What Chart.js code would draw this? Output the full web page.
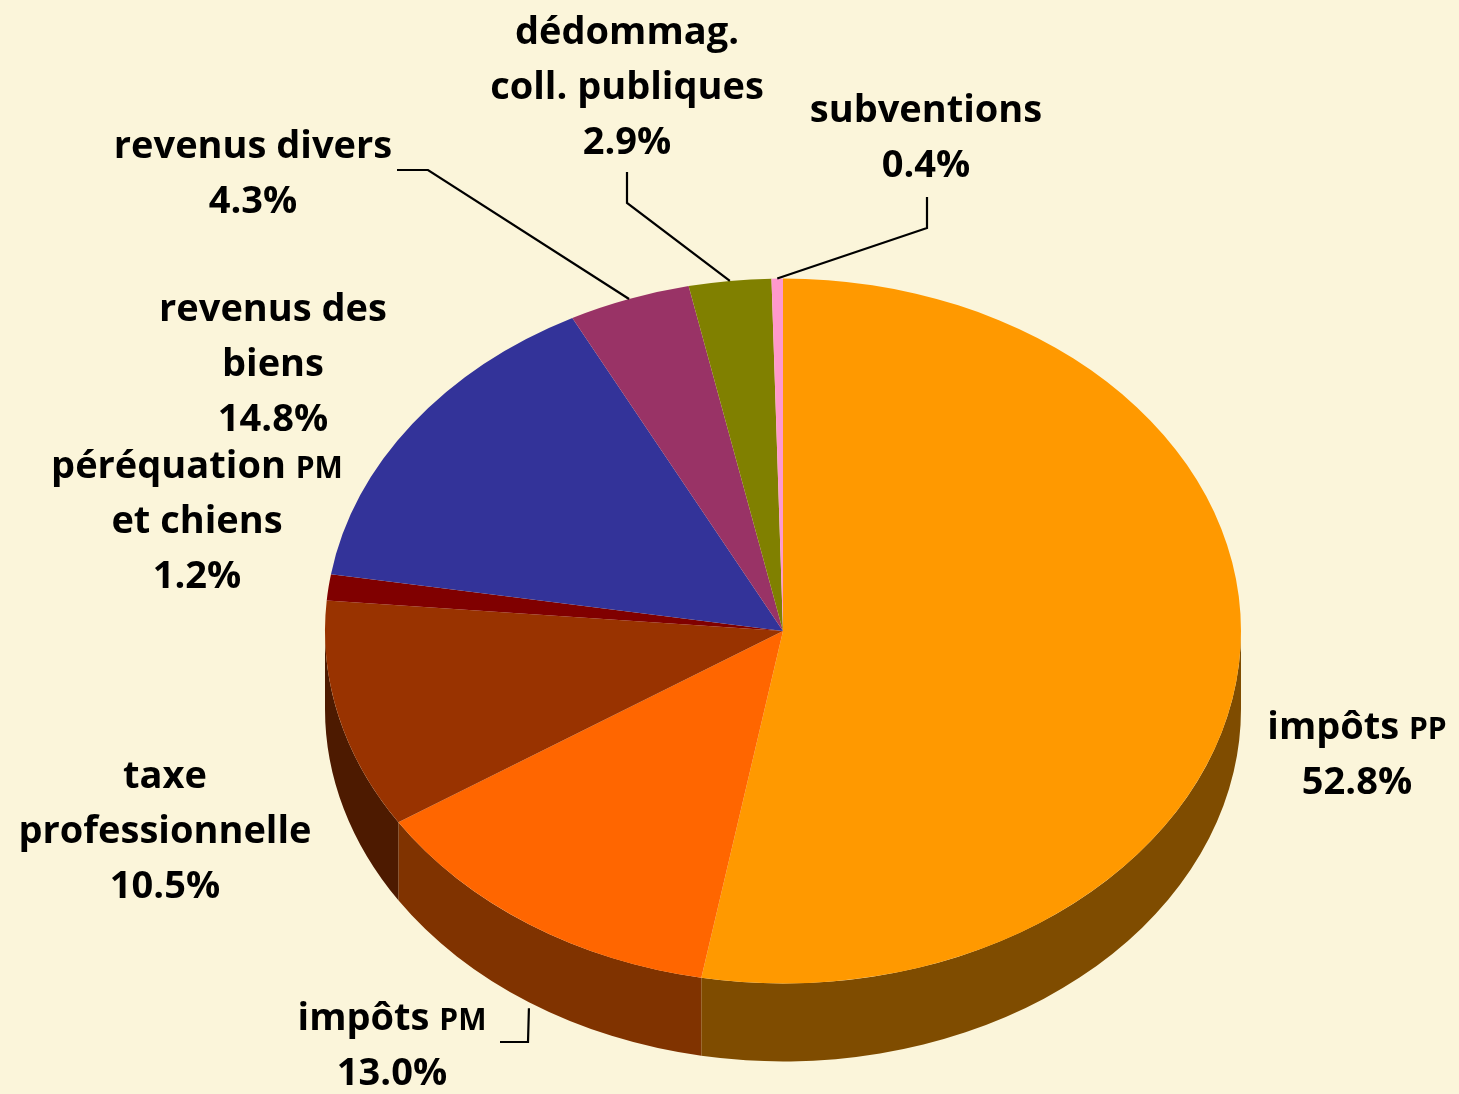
<!DOCTYPE html>
<html>
<head>
<meta charset="utf-8">
<script src="https://cdn.jsdelivr.net/npm/chart.js@4.4.1/dist/chart.umd.min.js"></script>
<style>
  html, body { margin: 0; padding: 0; background: #fbf5da; }
  #wrap { width: 1459px; height: 1094px; }
</style>
</head>
<body>
<div id="wrap"><canvas id="pie" width="1459" height="1094"></canvas></div>
<script>
// budget shares, clockwise from 12 o'clock
const categories = [
  ['impôts PP'],
  ['impôts PM'],
  ['taxe', 'professionnelle'],
  ['péréquation PM', 'et chiens'],
  ['revenus des', 'biens'],
  ['revenus divers'],
  ['dédommag.', 'coll. publiques'],
  ['subventions'],
];
const shares = [52.8, 13.0, 10.5, 1.2, 14.8, 4.3, 2.9, 0.4];
const shareLabels = ['52.8%', '13.0%', '10.5%', '1.2%', '14.8%', '4.3%', '2.9%', '0.4%'];

const topColors  = ['#ff9900', '#ff6600', '#993300', '#800000', '#333399', '#993366', '#808000', '#ff99cc'];
const sideColors = ['#7f4c00', '#803300', '#4d1a00', '#400000', '#1a1a4d', '#4d1a33', '#404000', '#804d66'];

// label block centres (x, y of first line) and leader line kinks
const labelPos = [
  [1357, 725], [392, 1016], [165, 774], [197, 464],
  [273, 307], [253, 144], [627, 30], [926, 108],
];
const leaders = {
  1: { pts: [[500, 1042], [528, 1042]], side: true },
  5: { pts: [[397, 170], [428, 170]] },
  6: { pts: [[627, 172], [627, 203]] },
  7: { pts: [[927, 197], [927, 228]] },
};

const SQUASH = 0.7696;   // vertical tilt of the pie
const DEPTH = 78;        // thickness of the pie wall
const FONT = '"Open Sans", sans-serif';
const FS = 38;
const LINE_H = 55;

function frontRange(s, e) {
  const a = Math.max(s, 0), b = Math.min(e, Math.PI);
  return a < b ? [a, b] : null;
}

function drawMixed(ctx, text, cx, cy) {
  // two-letter capitals are set as small caps
  const parts = text.split(/(\b[A-Z]{2}\b)/).filter(p => p.length);
  const fonts = parts.map(p => /^[A-Z]{2}$/.test(p) ? `700 ${Math.round(FS * 0.8)}px ${FONT}` : `700 ${FS}px ${FONT}`);
  let w = 0;
  parts.forEach((p, i) => { ctx.font = fonts[i]; w += ctx.measureText(p).width; });
  let x = cx - w / 2;
  ctx.textAlign = 'left';
  ctx.textBaseline = 'alphabetic';
  parts.forEach((p, i) => {
    ctx.font = fonts[i];
    ctx.fillText(p, x, cy + FS * 0.36);
    x += ctx.measureText(p).width;
  });
}

const pie3d = {
  id: 'pie3d',
  beforeDatasetsDraw(chart) {
    const ctx = chart.ctx;
    const arcs = chart.getDatasetMeta(0).data;
    const { x, y, outerRadius: r } = arcs[0];
    arcs.forEach((arc, i) => {
      const rg = frontRange(arc.startAngle, arc.endAngle);
      if (!rg) return;
      ctx.beginPath();
      ctx.ellipse(x, y, r, r * SQUASH, 0, rg[0], rg[1], false);
      ctx.ellipse(x, y + DEPTH, r, r * SQUASH, 0, rg[1], rg[0], true);
      ctx.closePath();
      ctx.fillStyle = sideColors[i];
      ctx.fill();
    });
    ctx.save();
    ctx.translate(x, y);
    ctx.scale(1, SQUASH);
    ctx.translate(-x, -y);
  },
  afterDatasetsDraw(chart) {
    const ctx = chart.ctx;
    ctx.restore();
    const arcs = chart.getDatasetMeta(0).data;
    const { x, y, outerRadius: r } = arcs[0];

    ctx.save();
    ctx.strokeStyle = '#000';
    ctx.lineWidth = 2.2;
    Object.keys(leaders).forEach(k => {
      const arc = arcs[k];
      const mid = (arc.startAngle + arc.endAngle) / 2;
      const ex = x + r * Math.cos(mid);
      const ey = y + r * SQUASH * Math.sin(mid) + (leaders[k].side ? DEPTH + 6 : 0);
      const pts = leaders[k].pts;
      ctx.beginPath();
      ctx.moveTo(pts[0][0], pts[0][1]);
      for (let j = 1; j < pts.length; j++) ctx.lineTo(pts[j][0], pts[j][1]);
      ctx.lineTo(ex, ey);
      ctx.stroke();
    });

    ctx.fillStyle = '#000';
    categories.forEach((lines, i) => {
      const [lx, ly] = labelPos[i];
      lines.concat([shareLabels[i]]).forEach((t, j) => drawMixed(ctx, t, lx, ly + j * LINE_H));
    });
    ctx.restore();
  },
};

new Chart(document.getElementById('pie'), {
  type: 'pie',
  data: {
    labels: categories.map(l => l.join(' ')),
    datasets: [{
      data: shares,
      backgroundColor: topColors,
      borderWidth: 0,
      radius: 458,
    }],
  },
  options: {
    responsive: false,
    animation: false,
    events: [],
    layout: { padding: { left: 107, right: 0, top: 168, bottom: 0 } },
    plugins: { legend: { display: false }, tooltip: { enabled: false } },
  },
  plugins: [pie3d],
});
</script>
</body>
</html>
